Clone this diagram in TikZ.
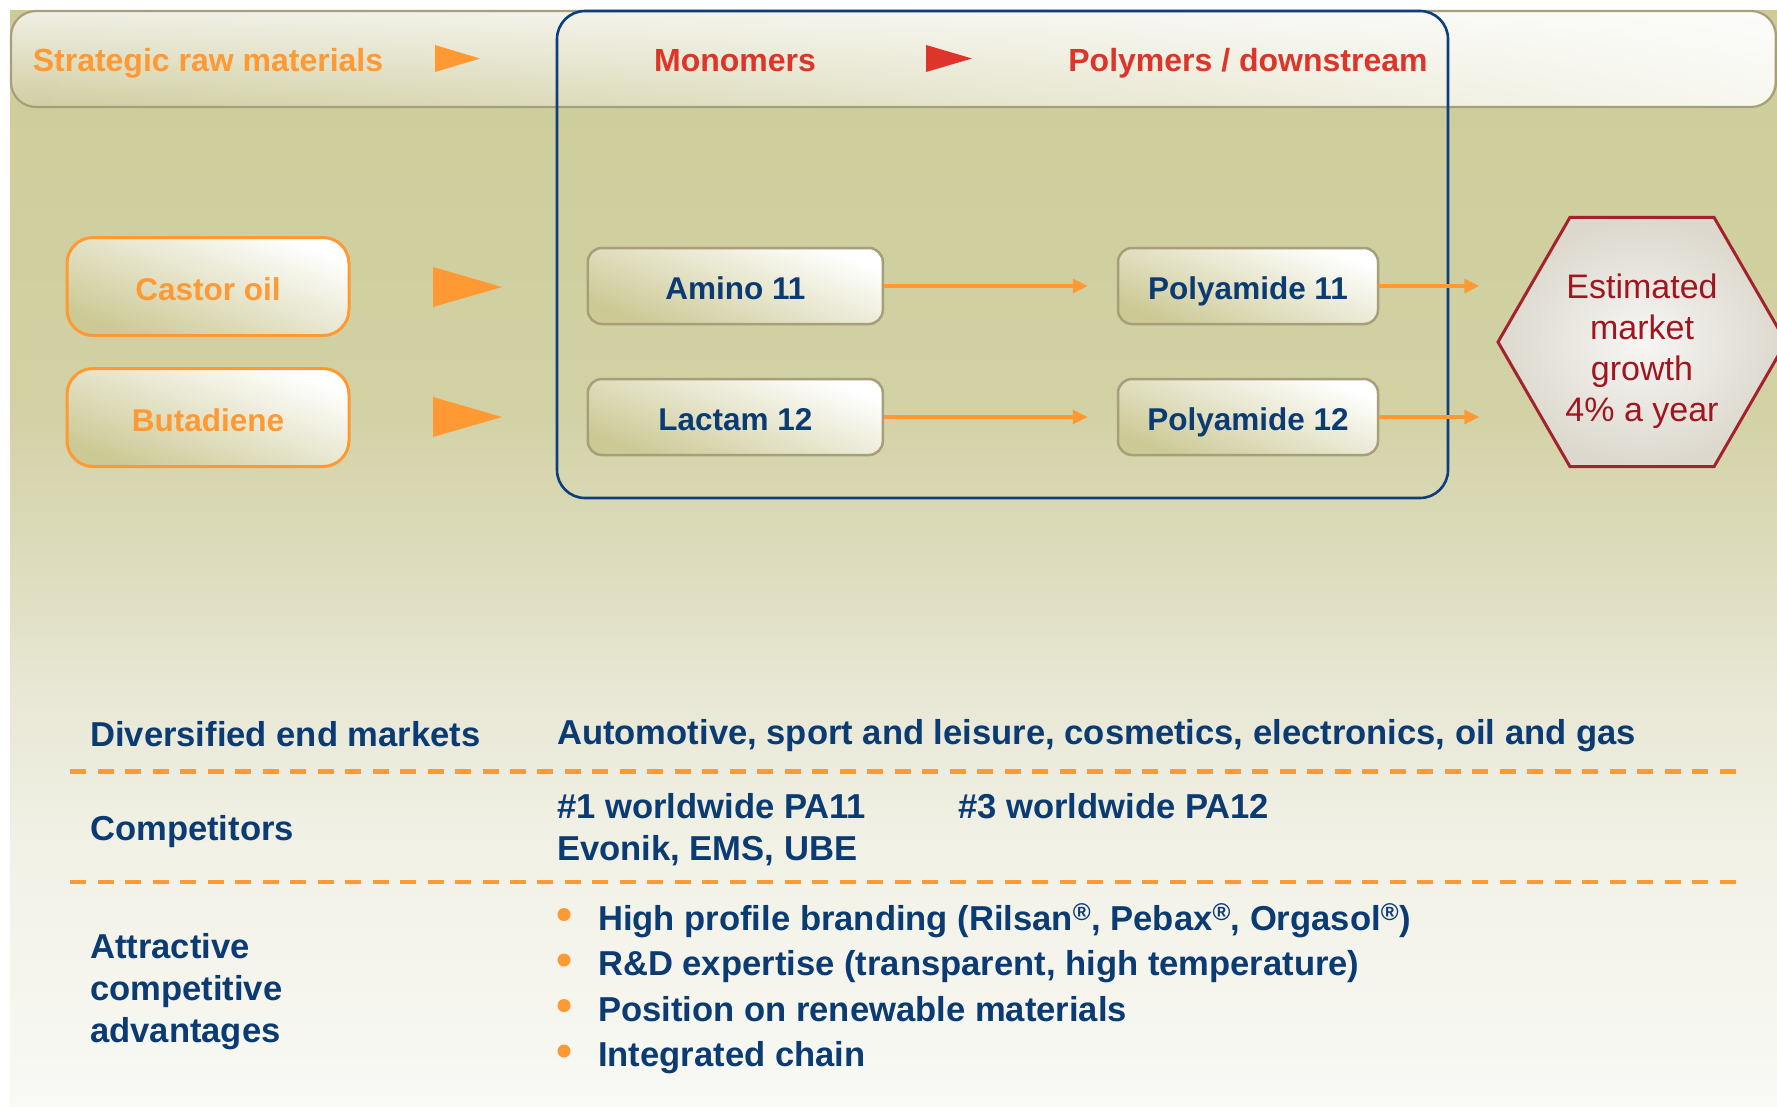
\documentclass[tikz,border=0pt]{standalone}
\usepackage{fontspec}
\setmainfont{Liberation Sans}
\usetikzlibrary{shapes.geometric,arrows.meta,fadings}

\definecolor{orng}{HTML}{FF9933}
\definecolor{hdred}{HTML}{DD3529}
\definecolor{navy}{HTML}{0B3B73}
\definecolor{frameblue}{HTML}{0D3F7E}
\definecolor{boxolive}{HTML}{CCC995}
\definecolor{boxedge}{HTML}{A79E7A}
\definecolor{bandedge}{HTML}{A69F7C}
\definecolor{bandtop}{HTML}{F0EFE4}
\definecolor{bandbot}{HTML}{D0CEA0}
\definecolor{hexred}{HTML}{A3232C}
\definecolor{hextext}{HTML}{9E1620}
\definecolor{hexin}{HTML}{F7F6F4}
\definecolor{hexout}{HTML}{DCD8CD}
\definecolor{bgA}{HTML}{CDCC99}
\definecolor{bgB}{HTML}{D2D1A4}
\definecolor{bgC}{HTML}{DCDBBB}
\definecolor{bgD}{HTML}{E9E8D6}
\definecolor{bgE}{HTML}{F1F1E6}
\definecolor{bgF}{HTML}{F9F9F5}

% page background: olive at the top, fading to off-white at the bottom
\pgfdeclareverticalshading{pagefade}{100bp}{color(0bp)=(bgF); color(25bp)=(bgF);
  color(36.7bp)=(bgE); color(43.5bp)=(bgD); color(50.4bp)=(bgC);
  color(57.2bp)=(bgB); color(75bp)=(bgA); color(100bp)=(bgA)}

\begin{document}
\begin{tikzpicture}[x=1pt, y=-1pt,
  hdr/.style={font=\fontsize{32pt}{38pt}\selectfont\bfseries, inner sep=0pt, anchor=base},
  rawbox/.style={draw=orng, line width=3pt, rounded corners=26pt,
    minimum width=282pt, minimum height=98pt, inner sep=0pt,
    bottom color=boxolive, top color=white, shading angle=-22,
    text=orng, font=\fontsize{31.5pt}{38pt}\selectfont\bfseries,
    text height=27.5pt, text depth=0pt},
  chembox/.style={draw=boxedge, line width=2.5pt, rounded corners=14pt,
    minimum height=76pt, inner sep=0pt,
    bottom color=boxolive, top color=white, shading angle=-22,
    text=navy, font=\fontsize{31.5pt}{38pt}\selectfont\bfseries,
    text height=27.5pt, text depth=0pt},
  flow/.style={draw=orng, line width=3.3pt, -{Triangle[length=15pt,width=14pt]}},
  sepline/.style={draw=orng, line width=4.5pt, dash pattern=on 16pt off 11.5pt},
  lbl/.style={font=\fontsize{34.6pt}{42pt}\selectfont\bfseries, text=navy,
    inner sep=0pt, anchor=base west},
  dot/.style={fill=orng},
]
\useasboundingbox (0,0) rectangle (1777,1106);

% background
\shade[shading=pagefade] (10,10) rectangle (1777,1106);

% header band
\shade[top color=bandtop, bottom color=bandbot, rounded corners=25pt] (11,11) rectangle (1776,107);
\fill[white, fill opacity=0.85, path fading=west, rounded corners=25pt] (11,11) rectangle (1776,107);
\draw[bandedge, line width=2.2pt, rounded corners=25pt] (11,11) rectangle (1776,107);

% monomer/polymer frame
\node[draw=frameblue, line width=2.6pt, rounded corners=28pt, minimum width=891pt,
      minimum height=487pt, inner sep=0pt] (frame) at (1002.5,254.5) {};

% header labels
\node[hdr, text=orng] (hraw) at (208,71) {Strategic raw materials};
\node[hdr, text=hdred] (hmono) at (735,71) {Monomers};
\node[hdr, text=hdred] (hpoly) at (1248,71) {Polymers / downstream};
\fill[orng] (435,45) -- (480,58.5) -- (435,72) -- cycle;
\fill[hdred] (926,45) -- (972,58.5) -- (926,72) -- cycle;

% raw materials
\node[rawbox] (castor) at (208,286.5) {Castor oil};
\node[rawbox] (buta) at (208,417.5) {Butadiene};
\fill[orng] (433,267) -- (502,287) -- (433,307) -- cycle;
\fill[orng] (433,397) -- (502,417) -- (433,437) -- cycle;

% monomers and polymers
\node[chembox, minimum width=295pt] (amino) at (735.3,286) {Amino 11};
\node[chembox, minimum width=295pt] (lactam) at (735.3,417) {Lactam 12};
\node[chembox, minimum width=260pt] (pa11) at (1248,286) {Polyamide 11};
\node[chembox, minimum width=260pt] (pa12) at (1248,417) {Polyamide 12};

% growth hexagon
\node[regular polygon, regular polygon sides=6, minimum size=288pt, inner sep=0pt,
      draw=hexred, line width=3pt, inner color=hexin, outer color=hexout] (hex) at (1642,342) {};
\node[align=center, text=hextext, font=\fontsize{34pt}{41pt}\selectfont, inner sep=0pt]
      (growth) at (1642,351) {Estimated\\market\\growth\\4\% a year};

% flows
\draw[flow, shorten >=29pt] (amino.east) -- (pa11.west);
\draw[flow, shorten >=29pt] (lactam.east) -- (pa12.west);
\draw[flow, shorten >=17pt] (pa11.east) -- (pa11.east -| hex.west);
\draw[flow, shorten >=17pt] (pa12.east) -- (pa12.east -| hex.west);

% summary table
\node[lbl] (endmk) at (90,746) {Diversified end markets};
\node[lbl] (endlist) at (557,744) {Automotive, sport and leisure, cosmetics, electronics, oil and gas};
\draw[sepline] (70,771.5) -- (535,771.5);
\draw[sepline] (537,771.5) -- (1742,771.5);

\node[lbl] (comp) at (90,840) {Competitors};
\node[lbl] (rank11) at (557,818) {\#1 worldwide PA11};
\node[lbl] (rank12) at (958,818) {\#3 worldwide PA12};
\node[lbl] (rivals) at (557,860) {Evonik, EMS, UBE};
\draw[sepline] (70,882) -- (535,882);
\draw[sepline] (537,882) -- (1742,882);

\node[lbl, align=left, anchor=north west] (adv) at (90,933.5) {Attractive\\competitive\\advantages};
\node[lbl] (adv1) at (598,930) {High profile branding (Rilsan\textsuperscript{®}, Pebax\textsuperscript{®}, Orgasol\textsuperscript{®})};
\node[lbl] (adv2) at (598,975.5) {R\&D expertise (transparent, high temperature)};
\node[lbl] (adv3) at (598,1021) {Position on renewable materials};
\node[lbl] (adv4) at (598,1066.5) {Integrated chain};
\fill[dot] (564,914.5) circle (6.5pt);
\fill[dot] (564,960) circle (6.5pt);
\fill[dot] (564,1005.5) circle (6.5pt);
\fill[dot] (564,1051) circle (6.5pt);
\end{tikzpicture}
\end{document}
